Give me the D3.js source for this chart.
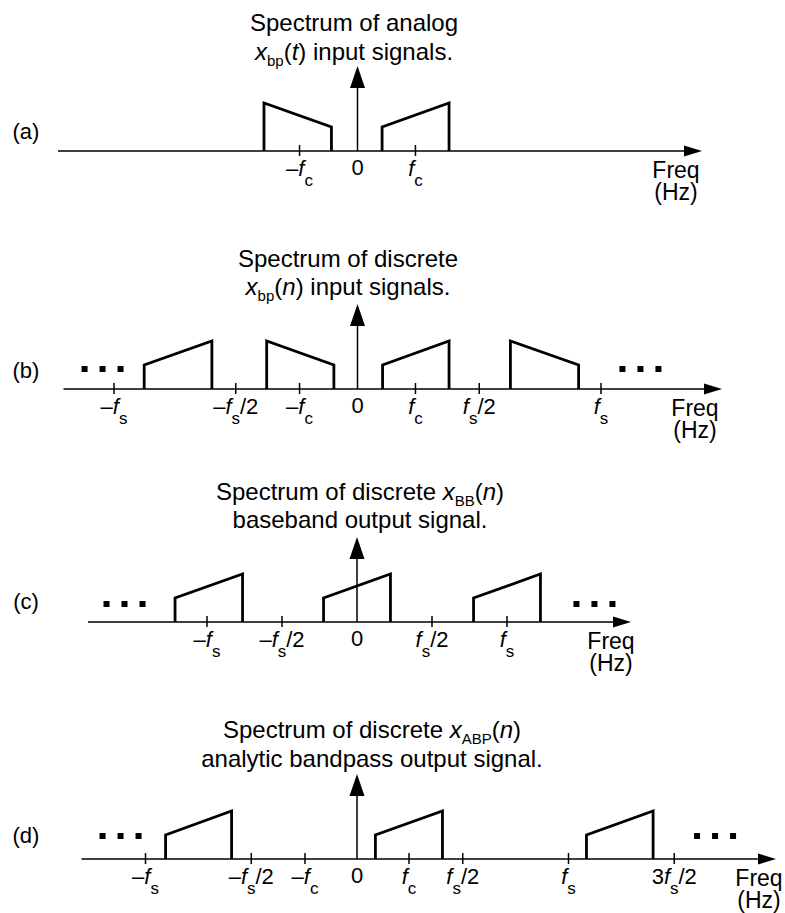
<!DOCTYPE html>
<html><head><meta charset="utf-8">
<script src="https://cdn.jsdelivr.net/npm/d3@7"></script>
<style>html,body{margin:0;padding:0;background:#fff}svg{display:block}</style>
</head><body><svg id="c" width="785" height="913"></svg>
<script>
// ---------- DATA (frequencies in units of each panel's fs) ----------
const panelIds = ["(a)", "(b)", "(c)", "(d)"];

const titlesA = ["Spectrum of analog", "*x*_{bp}(*t*) input signals."];
const titlesB = ["Spectrum of discrete", "*x*_{bp}(*n*) input signals."];
const titlesC = ["Spectrum of discrete *x*_{BB}(*n*)", "baseband output signal."];
const titlesD = ["Spectrum of discrete *x*_{ABP}(*n*)", "analytic bandpass output signal."];

// band: start freq, end freq, amplitude at start, amplitude at end
const bandsA = [
  {f0: -0.384, f1: -0.107, a0: 1.0, a1: 0.5},
  {f0:  0.101, f1:  0.376, a0: 0.5, a1: 1.0}
];
const bandsB = [
  {f0: -0.876, f1: -0.598, a0: 0.5, a1: 1.0},
  {f0: -0.373, f1: -0.097, a0: 1.0, a1: 0.5},
  {f0:  0.103, f1:  0.376, a0: 0.5, a1: 1.0},
  {f0:  0.628, f1:  0.908, a0: 1.0, a1: 0.5}
];
const bandsC = [
  {f0: -1.213, f1: -0.763, a0: 0.5, a1: 1.0},
  {f0: -0.223, f1:  0.223, a0: 0.5, a1: 1.0},
  {f0:  0.777, f1:  1.223, a0: 0.5, a1: 1.0}
];
const bandsD = [
  {f0: -0.905, f1: -0.593, a0: 0.5, a1: 1.0},
  {f0:  0.087, f1:  0.404, a0: 0.5, a1: 1.0},
  {f0:  1.085, f1:  1.400, a0: 0.5, a1: 1.0}
];

const ticksA = [-0.238, 0.238];
const tickLabelsA = ["–*f*_{c}", "*f*_{c}"];
const ticksB = [-1, -0.5, -0.238, 0.238, 0.5, 1];
const tickLabelsB = ["–*f*_{s}", "–*f*_{s}/2", "–*f*_{c}", "*f*_{c}", "*f*_{s}/2", "*f*_{s}"];
const ticksC = [-1, -0.5, 0.5, 1];
const tickLabelsC = ["–*f*_{s}", "–*f*_{s}/2", "*f*_{s}/2", "*f*_{s}"];
const ticksD = [-1, -0.5, -0.246, 0.246, 0.5, 1, 1.5];
const tickLabelsD = ["–*f*_{s}", "–*f*_{s}/2", "–*f*_{c}", "*f*_{c}", "*f*_{s}/2", "*f*_{s}", "3*f*_{s}/2"];

// centre of the "· · ·" continuation marks (left, right)
const dotsA = [];
const dotsB = [-1.047, 1.162];
const dotsC = [-1.55, 1.583];
const dotsD = [-1.118, 1.693];

const zeroLabel = "0";
const axisLabel = ["Freq", "(Hz)"];

// ---------- LAYOUT ----------
const layout = [
  {axisY: 151, zero: 357.5, fsPx: 243.5, x0: 58,   x1: 702, titleX: 354, titleY: [31, 60],       labelY: 139, freqX: 676, dotsDy: -20},
  {axisY: 389, zero: 357.5, fsPx: 243.5, x0: 63.5, x1: 722, titleX: 348, titleY: [266.7, 295],   labelY: 378, freqX: 695, dotsDy: -20},
  {axisY: 622, zero: 357,   fsPx: 150,   x0: 88,   x1: 631, titleX: 360, titleY: [500, 528.3],   labelY: 609, freqX: 611, dotsDy: -18},
  {axisY: 859, zero: 357,   fsPx: 211.5, x0: 81.5, x1: 776, titleX: 372, titleY: [738.3, 767.3], labelY: 843, freqX: 759, dotsDy: -23}
];
const panelData = [
  {titles: titlesA, bands: bandsA, ticks: ticksA, tickLabels: tickLabelsA, dots: dotsA},
  {titles: titlesB, bands: bandsB, ticks: ticksB, tickLabels: tickLabelsB, dots: dotsB},
  {titles: titlesC, bands: bandsC, ticks: ticksC, tickLabels: tickLabelsC, dots: dotsC},
  {titles: titlesD, bands: bandsD, ticks: ticksD, tickLabels: tickLabelsD, dots: dotsD}
];

const FONT = "'Liberation Sans', Arial, Helvetica, sans-serif";
const svg = d3.select("#c");

function parseRich(s) {
  const segs = [];
  const re = /\*([^*]+)\*|_\{([^}]+)\}|([^*_]+)/g;
  let m;
  while ((m = re.exec(s))) {
    if (m[1]) segs.push({t: m[1], it: true});
    else if (m[2]) segs.push({t: m[2], sub: true});
    else segs.push({t: m[3]});
  }
  return segs;
}
function richText(g, str, x, y, size, subSize, subShift) {
  const t = g.append("text").attr("x", x).attr("y", y)
    .attr("text-anchor", "middle").attr("font-family", FONT)
    .attr("font-size", size).attr("fill", "#000");
  let prevSub = false;
  parseRich(str).forEach(s => {
    const ts = t.append("tspan").text(s.t);
    if (s.it) ts.attr("font-style", "italic");
    if (s.sub) {
      ts.attr("font-size", subSize).attr("dy", subShift);
      prevSub = true;
    } else if (prevSub) {
      ts.attr("dy", -subShift);
      prevSub = false;
    }
  });
  return t;
}

panelData.forEach((P, i) => {
  const L = layout[i];
  const g = svg.append("g");
  const x = d3.scaleLinear().domain([0, 1]).range([L.zero, L.zero + L.fsPx]);
  const y = d3.scaleLinear().domain([0, 1]).range([L.axisY, L.axisY - 48]);

  // titles
  P.titles.forEach((line, k) => richText(g, line, L.titleX, L.titleY[k], 24, 15, 6));

  // panel label
  g.append("text").attr("x", 26).attr("y", L.labelY).attr("text-anchor", "middle")
    .attr("font-family", FONT).attr("font-size", 22).text(panelIds[i]);

  // horizontal axis with arrow
  g.append("line").attr("x1", L.x0).attr("x2", L.x1 - 12).attr("y1", L.axisY).attr("y2", L.axisY)
    .attr("stroke", "#000").attr("stroke-width", 1.5);
  g.append("path")
    .attr("d", `M${L.x1},${L.axisY} L${L.x1 - 18},${L.axisY - 5.5} L${L.x1 - 18},${L.axisY + 5.5} Z`)
    .attr("fill", "#000");

  // vertical arrow at 0
  const x0p = x(0);
  g.append("line").attr("x1", x0p).attr("x2", x0p).attr("y1", L.axisY).attr("y2", L.axisY - 64)
    .attr("stroke", "#000").attr("stroke-width", 1.5);
  g.append("path")
    .attr("d", `M${x0p},${L.axisY - 85} L${x0p - 7.5},${L.axisY - 63} L${x0p + 7.5},${L.axisY - 63} Z`)
    .attr("fill", "#000");

  // ticks
  g.selectAll("line.tick").data(P.ticks).join("line").attr("class", "tick")
    .attr("x1", d => x(d)).attr("x2", d => x(d))
    .attr("y1", L.axisY - 6).attr("y2", L.axisY + 5)
    .attr("stroke", "#000").attr("stroke-width", 1.5);
  P.ticks.forEach((d, k) => richText(g, P.tickLabels[k], x(d), L.axisY + 25, 22, 17, 10));
  richText(g, zeroLabel, x(0), L.axisY + 24, 22, 17, 10);

  // axis label
  richText(g, axisLabel[0], L.freqX, L.axisY + 27, 23, 17, 10);
  richText(g, axisLabel[1], L.freqX, L.axisY + 49, 23, 17, 10);

  // bands
  const line = d3.line().x(d => x(d[0])).y(d => y(d[1]));
  g.selectAll("path.band").data(P.bands).join("path").attr("class", "band")
    .attr("d", b => line([[b.f0, 0], [b.f0, b.a0], [b.f1, b.a1], [b.f1, 0]]))
    .attr("fill", "none").attr("stroke", "#000").attr("stroke-width", 2.8)
    .attr("stroke-linejoin", "miter");

  // continuation dots
  P.dots.forEach(c => {
    [-18, 0, 18].forEach(off => {
      g.append("rect").attr("x", x(c) + off - 3).attr("y", L.axisY + L.dotsDy - 3)
        .attr("width", 6).attr("height", 6).attr("fill", "#000");
    });
  });
});
</script>
</body></html>
